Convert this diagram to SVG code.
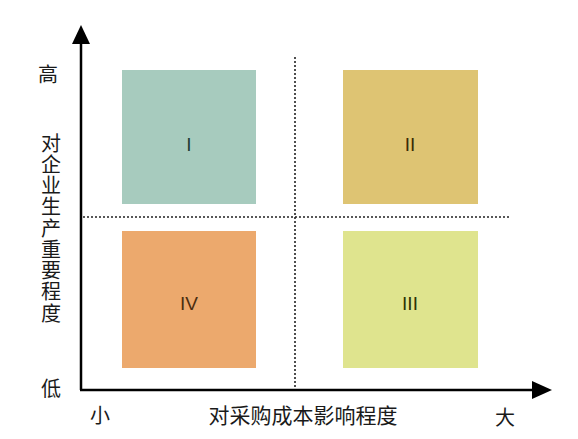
<svg xmlns="http://www.w3.org/2000/svg" width="578" height="439" viewBox="0 0 578 439">
<style>
.lbl{font-family:"Noto Sans CJK SC","Liberation Sans",sans-serif;font-size:20px;fill:#1a1a1a;text-anchor:middle;dominant-baseline:central}
.vlbl{font-family:"Noto Sans CJK SC","Liberation Sans",sans-serif;font-size:20px;fill:#1a1a1a;writing-mode:vertical-rl;letter-spacing:1.25px}
.num{font-family:"Liberation Sans",sans-serif;font-size:19px;text-anchor:middle;dominant-baseline:central}
.dot{stroke:#222;stroke-width:1.6;stroke-dasharray:2 2;fill:none}
.axis{stroke:#000;stroke-width:2.5;fill:none}
</style>
<rect width="578" height="439" fill="#ffffff"/>
<g id="connectors">
<line class="dot" x1="295" y1="57" x2="295" y2="389"/>
<line class="dot" x1="83" y1="217" x2="509" y2="217"/>
<line class="axis" x1="81" y1="390" x2="81" y2="40"/>
<polygon points="81,25 72,44 90,44" fill="#000"/>
<line class="axis" x1="80" y1="390" x2="535" y2="390"/>
<polygon points="552,390 532,381 532,399" fill="#000"/>
</g>
<g id="q1"><rect x="122" y="70" width="134" height="134" fill="#a7cbbe"/><text class="num" x="189" y="144" fill="#1f3d33">I</text></g>
<g id="q2"><rect x="343" y="70" width="135" height="134" fill="#dec473"/><text class="num" x="410" y="144" fill="#3a2a05">II</text></g>
<g id="q3"><rect x="343" y="231" width="135" height="137" fill="#dfe48e"/><text class="num" x="410" y="303" fill="#2e3305">III</text></g>
<g id="q4"><rect x="122" y="231" width="134" height="137" fill="#eca96d"/><text class="num" x="189" y="303" fill="#4a2d10">IV</text></g>
<g id="labels">
<text class="lbl" x="48" y="73">高</text>
<text class="vlbl" x="51" y="133">对企业生产重要程度</text>
<text class="lbl" x="51" y="387">低</text>
<text class="lbl" x="100" y="414">小</text>
<text class="lbl" x="303" y="414" style="font-size:21px">对采购成本影响程度</text>
<text class="lbl" x="505" y="416">大</text>
</g>
</svg>
